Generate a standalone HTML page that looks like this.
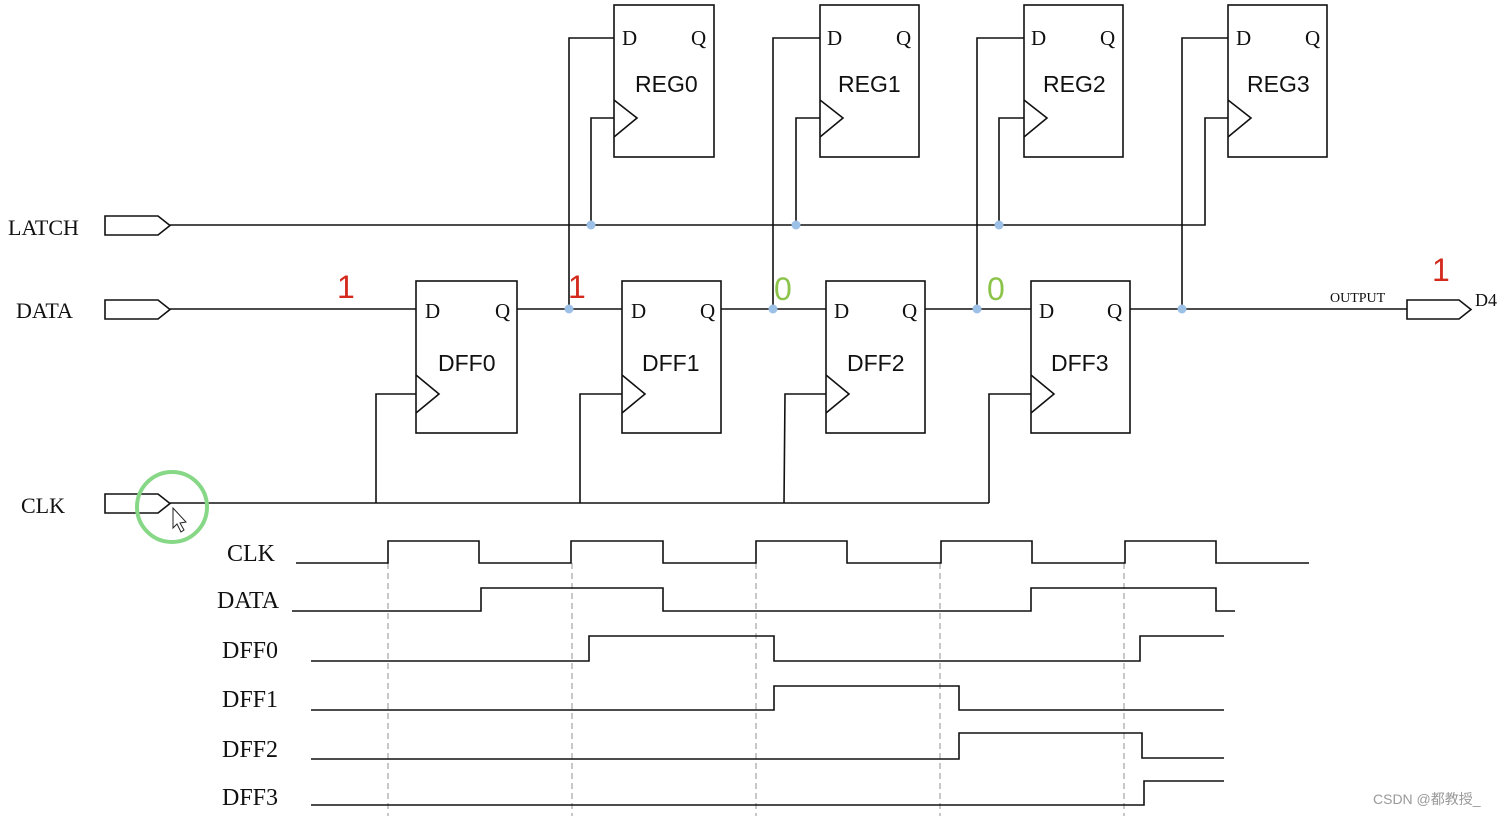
<!DOCTYPE html>
<html><head><meta charset="utf-8"><style>
html,body{margin:0;padding:0;background:#fff;}
svg{display:block;}
.s{font-family:"Liberation Serif",serif;fill:#111;}
.a{font-family:"Liberation Sans","DejaVu Sans",sans-serif;fill:#111;}
</style></head><body>
<svg width="1504" height="816" viewBox="0 0 1504 816" xmlns="http://www.w3.org/2000/svg">
<g fill="none" stroke="#111" stroke-width="1.6">
<!-- input ports -->
<polygon points="105,216 158,216 170,225.5 158,235 105,235" fill="#fff"/>
<polygon points="105,300 158,300 170,309.5 158,319 105,319" fill="#fff"/>
<polygon points="105,494 158,494 170,503.5 158,513 105,513" fill="#fff"/>
<polygon points="1407,300 1459,300 1471,309.5 1459,319 1407,319" fill="#fff"/>
<!-- LATCH line -->
<polyline points="170,225 1205,225 1205,118 1228,118"/>
<!-- CLK line -->
<line x1="170" y1="503" x2="989" y2="503"/>
<!-- DATA chain -->
<line x1="170" y1="309" x2="416" y2="309"/>
<line x1="517" y1="309" x2="622" y2="309"/>
<line x1="721" y1="309" x2="826" y2="309"/>
<line x1="925" y1="309" x2="1031" y2="309"/>
<line x1="1130" y1="309" x2="1407" y2="309"/>
<!-- DFFs -->
<rect x="416" y="281" width="101" height="152"/>
<rect x="622" y="281" width="99" height="152"/>
<rect x="826" y="281" width="99" height="152"/>
<rect x="1031" y="281" width="99" height="152"/>
<polyline points="416,375 439,394 416,413"/>
<polyline points="622,375 645,394 622,413"/>
<polyline points="826,375 849,394 826,413"/>
<polyline points="1031,375 1054,394 1031,413"/>
<polyline points="376,503 376,394 416,394"/>
<polyline points="580,503 580,394 622,394"/>
<polyline points="784,503 785,394 826,394"/>
<polyline points="989,503 989,394 1031,394"/>
<!-- REGs -->
<rect x="614" y="5" width="100" height="152"/>
<rect x="820" y="5" width="99" height="152"/>
<rect x="1024" y="5" width="99" height="152"/>
<rect x="1228" y="5" width="99" height="152"/>
<polyline points="614,100 637,118 614,137"/>
<polyline points="820,100 843,118 820,137"/>
<polyline points="1024,100 1047,118 1024,137"/>
<polyline points="1228,100 1251,118 1228,137"/>
<polyline points="569,309 569,38 614,38"/>
<polyline points="773,309 773,38 820,38"/>
<polyline points="977,309 977,38 1024,38"/>
<polyline points="1182,309 1182,38 1228,38"/>
<polyline points="591,225 591,118 614,118"/>
<polyline points="796,225 796,118 820,118"/>
<polyline points="999,225 999,118 1024,118"/>
</g>
<g fill="#9cc0e6">
<circle cx="591" cy="225" r="4.5"/><circle cx="796" cy="225" r="4.5"/><circle cx="999" cy="225" r="4.5"/>
<circle cx="569" cy="309" r="4.5"/><circle cx="773" cy="309" r="4.5"/><circle cx="977" cy="309" r="4.5"/><circle cx="1182" cy="309" r="4.5"/>
</g>
<!-- labels -->
<g class="s" font-size="22">
<text x="8" y="235">LATCH</text>
<text x="16" y="318">DATA</text>
<text x="21" y="513">CLK</text>
</g>
<g class="s" font-size="21">
<text x="425" y="318">D</text><text x="495" y="318">Q</text>
<text x="631" y="318">D</text><text x="700" y="318">Q</text>
<text x="834" y="318">D</text><text x="902" y="318">Q</text>
<text x="1039" y="318">D</text><text x="1107" y="318">Q</text>
<text x="622" y="45">D</text><text x="691" y="45">Q</text>
<text x="827" y="45">D</text><text x="896" y="45">Q</text>
<text x="1031" y="45">D</text><text x="1100" y="45">Q</text>
<text x="1236" y="45">D</text><text x="1305" y="45">Q</text>
</g>
<g class="a" font-size="23">
<text x="438" y="371">DFF0</text><text x="642" y="371">DFF1</text><text x="847" y="371">DFF2</text><text x="1051" y="371">DFF3</text>
<text x="635" y="92">REG0</text><text x="838" y="92">REG1</text><text x="1043" y="92">REG2</text><text x="1247" y="92">REG3</text>
</g>
<text class="s" x="1330" y="302" font-size="14">OUTPUT</text>
<text class="s" x="1475" y="306" font-size="18">D4</text>
<g font-family="Liberation Sans,sans-serif" font-size="32">
<text x="337" y="298" fill="#d42a1e">1</text>
<text x="568" y="298" fill="#d42a1e">1</text>
<text x="774" y="300" fill="#8cc34a">0</text>
<text x="987" y="300" fill="#8cc34a">0</text>
<text x="1432" y="281" fill="#d42a1e">1</text>
</g>
<circle cx="172" cy="507" r="35" fill="none" stroke="#86d886" stroke-width="4"/>
<path d="M173,508 L173,528 L177,524 L181,532 L184,530 L180,523 L186,522 Z" fill="#fff" stroke="#222" stroke-width="1"/>
<!-- dashed -->
<g stroke="#aaa" stroke-width="1.3" stroke-dasharray="6,4">
<line x1="388" y1="563" x2="388" y2="816"/>
<line x1="572" y1="563" x2="572" y2="816"/>
<line x1="756" y1="563" x2="756" y2="816"/>
<line x1="940" y1="563" x2="940" y2="816"/>
<line x1="1124" y1="563" x2="1124" y2="816"/>
</g>
<!-- waveforms -->
<g fill="none" stroke="#111" stroke-width="1.6">
<polyline points="296,563 388,563 388,541 479,541 479,563 571,563 571,541 663,541 663,563 756,563 756,541 847,541 847,563 941,563 941,541 1032,541 1032,563 1125,563 1125,541 1216,541 1216,563 1309,563"/>
<polyline points="292,611 481,611 481,588 663,588 663,611 1031,611 1031,588 1216,588 1216,611 1235,611"/>
<polyline points="311,661 589,661 589,636 774,636 774,661 1140,661 1140,636 1224,636"/>
<polyline points="311,710 774,710 774,686 959,686 959,710 1224,710"/>
<polyline points="311,759 959,759 959,733 1142,733 1142,758 1224,758"/>
<polyline points="311,805 1144,805 1144,781 1224,781"/>
</g>
<g class="s" font-size="24">
<text x="227" y="561">CLK</text>
<text x="217" y="608">DATA</text>
<text x="222" y="658">DFF0</text>
<text x="222" y="707">DFF1</text>
<text x="222" y="757">DFF2</text>
<text x="222" y="805">DFF3</text>
</g>
<text x="1373" y="804" font-family="Liberation Sans,'Noto Sans CJK SC',sans-serif" font-size="14" fill="#999">CSDN @都教授_</text>
</svg>
</body></html>
